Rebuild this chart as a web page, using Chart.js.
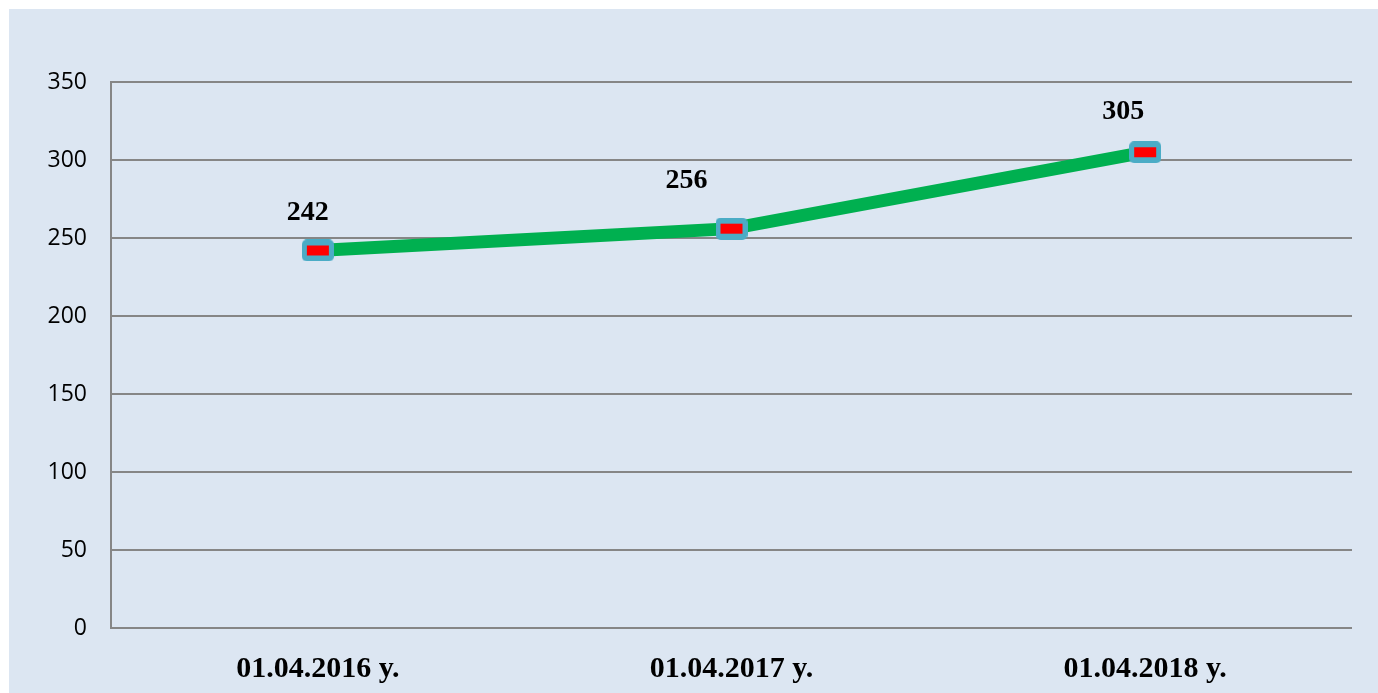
<!DOCTYPE html>
<html>
<head>
<meta charset="utf-8">
<script src="https://cdn.jsdelivr.net/npm/chart.js@4"></script>
<style>
  html, body { margin: 0; padding: 0; background: #fff; }
  #wrap {
    position: absolute; left: 9px; top: 9px;
    width: 1369px; height: 684px;
    background: #DCE6F2;
  }
</style>
</head>
<body>
<div id="wrap"><canvas id="chart" width="1369" height="684"></canvas></div>
<script>
// значения с графика
const categories = ["01.04.2016 y.", "01.04.2017 y.", "01.04.2018 y."];
const values = [242, 256, 305];
const yTicks = [0, 50, 100, 150, 200, 250, 300, 350];

// смещения подписей значений относительно точки (px)
const LABEL_OFFSETS = [
  [-10, -38],
  [-45, -48],
  [-22, -40],
];

// маркер: скруглённый голубой прямоугольник с красной серединой
function makeMarker() {
  const c = document.createElement("canvas");
  c.width = 32;
  c.height = 22;
  const g = c.getContext("2d");
  g.fillStyle = "#4BACC6";
  g.beginPath();
  g.roundRect(0, 0, 32, 22, 5);
  g.fill();
  g.fillStyle = "#FF0000";
  g.fillRect(5, 6, 22, 10);
  return c;
}

const valueLabels = {
  id: "valueLabels",
  afterDatasetsDraw(chart) {
    const { ctx } = chart;
    const meta = chart.getDatasetMeta(0);
    ctx.save();
    ctx.font = "bold 28px 'Liberation Serif', 'Times New Roman', serif";
    ctx.fillStyle = "#000";
    ctx.textAlign = "center";
    ctx.textBaseline = "middle";
    meta.data.forEach((pt, i) => {
      const [dx, dy] = LABEL_OFFSETS[i];
      ctx.fillText(String(values[i]), pt.x + dx, pt.y + dy);
    });
    ctx.restore();
  },
};

new Chart(document.getElementById("chart"), {
  type: "line",
  data: {
    labels: categories,
    datasets: [
      {
        data: values,
        borderColor: "#00B050",
        borderWidth: 13,
        tension: 0,
        pointStyle: makeMarker(),
        pointRadius: 12,
      },
    ],
  },
  options: {
    responsive: false,
    animation: false,
    layout: { padding: { top: 73, right: 26, left: 0, bottom: 0 } },
    plugins: {
      legend: { display: false },
      tooltip: { enabled: false },
    },
    scales: {
      x: {
        offset: true,
        grid: { display: false, drawTicks: false },
        border: { display: false },
        ticks: {
          padding: 23,
          color: "#000",
          font: { family: "'Liberation Serif', 'Times New Roman', serif", size: 30, weight: "bold" },
        },
        afterFit(scale) { scale.height = 65; },
      },
      y: {
        min: 0,
        max: 350,
        afterBuildTicks(scale) { scale.ticks = yTicks.map((v) => ({ value: v })); },
        grid: { color: "#868686", lineWidth: 2, drawTicks: false },
        border: { color: "#868686", width: 2 },
        ticks: {
          padding: 24,
          color: "#000",
          font: { family: "'Open Sans', 'Noto Sans', sans-serif", size: 23 },
        },
        afterFit(scale) { scale.width = 102; },
      },
    },
  },
  plugins: [valueLabels],
});
</script>
</body>
</html>
